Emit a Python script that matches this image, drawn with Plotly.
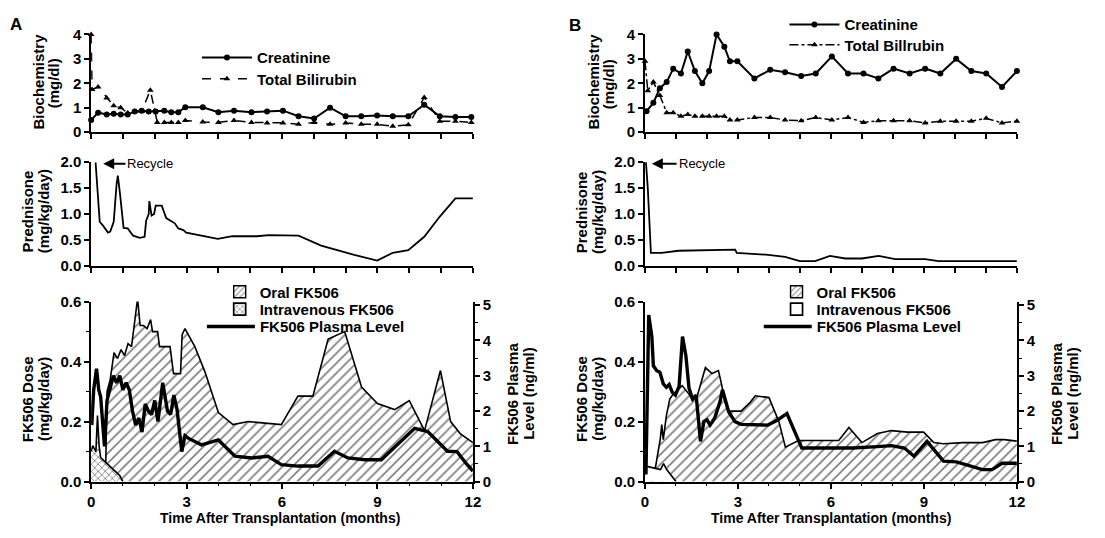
import plotly.graph_objects as go

# The page body has an 8 px margin, so the figure is drawn 8 px smaller and
# all positions below are given in screen pixels and converted.
SCREEN_W, SCREEN_H = 1105, 538
OFF = 8
W, H = SCREEN_W - OFF, SCREEN_H - OFF
FONT = "Liberation Sans, Arial, Helvetica, sans-serif"

# ---------------- tick definitions ----------------
month_ticks = list(range(13))
time_ticks = [0, 3, 6, 9, 12]
biochem_ticks = [0, 1, 2, 3, 4]
pred_ticks = [0.0, 0.5, 1.0, 1.5, 2.0]
pred_labels = ["0.0", "0.5", "1.0", "1.5", "2.0"]
dose_ticks = [0.0, 0.2, 0.4, 0.6]
dose_labels = ["0.0", "0.2", "0.4", "0.6"]
dose_minor = [0.1, 0.3, 0.5]
level_ticks = [0, 1, 2, 3, 4, 5]
level_minor = [0.5, 1.5, 2.5, 3.5, 4.5]

# ---------------- Panel A : biochemistry ----------------
crea_A_t = [0, 0.22, 0.49, 0.71, 0.93, 1.15, 1.37, 1.59, 1.81, 2.03, 2.30, 2.52, 2.74, 2.96, 3.51, 4.0,
            4.49, 5.04, 5.53, 6.03, 6.52, 7.01, 7.51, 8.0, 8.49, 8.99, 9.48, 9.97, 10.47, 10.96, 11.45, 11.95]
crea_A = [0.5, 0.8, 0.72, 0.75, 0.72, 0.72, 0.85, 0.88, 0.85, 0.85, 0.88, 0.82, 0.82, 1.02, 1.02, 0.82,
          0.88, 0.82, 0.85, 0.88, 0.65, 0.56, 1.0, 0.65, 0.65, 0.68, 0.65, 0.65, 1.12, 0.65, 0.62, 0.62]
bili_A_t = [0, 0.03, 0.22, 0.49, 0.71, 0.93, 1.15, 1.37, 1.59, 1.86, 2.0, 2.08, 2.30, 2.52, 2.74, 2.96, 3.51,
            4.0, 4.49, 5.04, 5.53, 6.03, 6.52, 7.01, 7.51, 8.0, 8.49, 8.99, 9.48, 9.97, 10.47, 10.96, 11.45, 11.95]
bili_A = [4.0, 1.75, 1.85, 1.4, 1.08, 1.0, 0.78, 0.85, 0.85, 1.72, 0.88, 0.4, 0.4, 0.4, 0.4, 0.48, 0.42,
          0.4, 0.48, 0.4, 0.38, 0.38, 0.32, 0.4, 0.32, 0.38, 0.32, 0.32, 0.24, 0.3, 1.42, 0.45, 0.45, 0.4]

# ---------------- Panel A : prednisone ----------------
pred_A_t = [0.14, 0.27, 0.38, 0.53, 0.60, 0.71, 0.80, 0.84, 0.91, 1.02, 1.15, 1.32, 1.53, 1.68, 1.73, 1.81,
            1.83, 1.90, 1.98, 2.03, 2.22, 2.36, 2.63, 2.74, 2.90, 2.99, 3.98, 4.44, 5.21, 5.59, 6.52, 7.23,
            8.27, 8.99, 9.48, 9.97, 10.47, 10.96, 11.45, 12.0]
pred_A = [2.0, 0.85, 0.77, 0.64, 0.66, 0.85, 1.57, 1.74, 1.38, 0.73, 0.72, 0.58, 0.54, 0.56, 0.87, 1.0,
          1.25, 0.97, 1.0, 1.16, 1.16, 0.92, 0.82, 0.72, 0.69, 0.64, 0.52, 0.57, 0.57, 0.59, 0.58, 0.39,
          0.21, 0.1, 0.25, 0.3, 0.56, 0.95, 1.3, 1.3]

# ---------------- Panel A : FK506 ----------------
oral_A_t = [0.45, 0.5, 0.6, 0.72, 0.83, 0.94, 1.05, 1.16, 1.27, 1.35, 1.46, 1.54, 1.65, 1.76, 1.87, 1.93,
            2.09, 2.15, 2.48, 2.59, 2.81, 2.86, 2.95, 3.26, 3.58, 4.0, 4.46, 4.94, 5.98, 6.5, 6.97, 7.45,
            7.97, 8.5, 9.0, 9.54, 10.0, 10.48, 10.98, 11.3, 11.6, 12.0]
oral_A = [0.0, 0.30, 0.34, 0.43, 0.41, 0.44, 0.42, 0.46, 0.45, 0.52, 0.61, 0.52, 0.52, 0.51, 0.54, 0.50,
          0.50, 0.45, 0.45, 0.36, 0.36, 0.49, 0.51, 0.45, 0.365, 0.23, 0.19, 0.20, 0.19, 0.285, 0.285, 0.475,
          0.50, 0.315, 0.26, 0.24, 0.27, 0.17, 0.37, 0.20, 0.16, 0.13]
iv_A_t = [0, 0.05, 0.15, 0.2, 0.25, 0.3, 0.5, 0.7, 0.9, 1.0]
iv_A = [0.1, 0.12, 0.1, 0.22, 0.12, 0.08, 0.06, 0.04, 0.02, 0.0]
level_A_t = [0.02, 0.08, 0.17, 0.24, 0.3, 0.36, 0.42, 0.5, 0.6, 0.7, 0.8, 0.9, 1.0, 1.1, 1.2, 1.3, 1.4, 1.5,
             1.6, 1.7, 1.8, 1.9, 2.0, 2.1, 2.25, 2.4, 2.5, 2.6, 2.7, 2.85, 2.95, 3.05, 3.47, 4.0, 4.52, 5.04,
             5.56, 5.98, 6.5, 7.13, 7.65, 8.07, 8.6, 9.12, 10.17, 10.58, 11.2, 11.5, 11.8, 12.0]
level_A = [1.6, 2.6, 3.2, 2.6, 2.4, 1.8, 1.0, 2.3, 2.7, 3.0, 2.8, 3.0, 2.6, 2.8, 2.6, 2.0, 1.6, 1.8,
           1.4, 2.2, 2.0, 1.9, 2.3, 1.7, 2.8, 2.0, 1.9, 2.45, 2.05, 0.85, 1.3, 1.23, 1.04, 1.18, 0.72, 0.67,
           0.72, 0.48, 0.44, 0.44, 0.86, 0.67, 0.62, 0.62, 1.51, 1.42, 0.86, 0.85, 0.5, 0.3]

# ---------------- Panel B : biochemistry ----------------
crea_B_t = [0.05, 0.27, 0.48, 0.70, 0.91, 1.16, 1.38, 1.61, 1.85, 2.07, 2.31, 2.56, 2.74, 2.98, 3.53, 4.04,
            4.52, 5.04, 5.51, 6.03, 6.55, 7.05, 7.53, 8.02, 8.54, 9.04, 9.53, 10.04, 10.53, 11.01, 11.52, 12.0]
crea_B = [0.86, 1.2, 1.8, 2.05, 2.6, 2.4, 3.3, 2.5, 2.0, 2.5, 4.0, 3.5, 2.9, 2.9, 2.2, 2.55,
          2.45, 2.3, 2.4, 3.1, 2.4, 2.4, 2.2, 2.6, 2.4, 2.6, 2.4, 3.0, 2.5, 2.4, 1.85, 2.5]
bili_B_t = [0, 0.09, 0.27, 0.48, 0.70, 0.91, 1.16, 1.38, 1.61, 1.85, 2.07, 2.31, 2.56, 2.74, 2.98, 3.53,
            4.04, 4.52, 5.04, 5.51, 6.03, 6.55, 7.05, 7.53, 8.02, 8.54, 9.04, 9.53, 10.04, 10.53, 11.01,
            11.52, 12.0]
bili_B = [2.9, 1.7, 2.05, 1.5, 0.8, 0.8, 0.65, 0.72, 0.65, 0.65, 0.65, 0.65, 0.65, 0.5, 0.5, 0.6,
          0.6, 0.5, 0.47, 0.6, 0.5, 0.6, 0.4, 0.47, 0.47, 0.47, 0.38, 0.45, 0.45, 0.45, 0.57, 0.38, 0.45]

# ---------------- Panel B : prednisone ----------------
pred_B_t = [0.03, 0.09, 0.19, 0.54, 1.08, 1.83, 2.48, 2.91, 2.96, 3.66, 3.98, 4.52, 5.0, 5.49, 5.97, 6.46,
            7.0, 7.54, 8.07, 9.04, 9.47, 10.76, 12.0]
pred_B = [2.0, 1.5, 0.25, 0.25, 0.29, 0.3, 0.3, 0.31, 0.25, 0.23, 0.21, 0.17, 0.09, 0.09, 0.19, 0.14,
          0.14, 0.19, 0.13, 0.13, 0.09, 0.09, 0.09]

# ---------------- Panel B : FK506 ----------------
oral_B_t = [0.2, 0.33, 0.49, 0.54, 0.59, 0.69, 0.8, 0.9, 1.0, 1.2, 1.43, 1.54, 1.7, 1.84, 1.95, 2.16, 2.37,
            2.48, 2.58, 2.7, 3.1, 3.4, 3.56, 4.0, 4.32, 4.53, 4.95, 6.25, 6.58, 7.0, 7.5, 7.95, 8.47, 8.99,
            9.32, 9.63, 10.26, 10.89, 11.31, 11.6, 12.0]
oral_B = [0.0, 0.043, 0.14, 0.19, 0.14, 0.22, 0.275, 0.29, 0.3, 0.32, 0.29, 0.27, 0.29, 0.34, 0.38, 0.36, 0.37,
          0.32, 0.265, 0.235, 0.235, 0.265, 0.286, 0.28, 0.2, 0.115, 0.137, 0.137, 0.18, 0.13, 0.16, 0.17,
          0.165, 0.165, 0.13, 0.126, 0.13, 0.13, 0.14, 0.14, 0.135]
iv_B_t = [0, 0.1, 0.3, 0.5, 0.6, 0.7, 0.85, 1.0]
iv_B = [0.05, 0.05, 0.045, 0.04, 0.06, 0.04, 0.02, 0.0]
level_B_t = [0.03, 0.08, 0.12, 0.22, 0.27, 0.38, 0.48, 0.59, 0.69, 0.78, 0.88, 0.98, 1.1, 1.21, 1.32, 1.42,
             1.53, 1.65, 1.79, 1.9, 2.0, 2.1, 2.25, 2.42, 2.5, 2.7, 2.9, 3.1, 3.4, 3.96, 4.27, 4.58, 5.06,
             5.6, 6.69, 7.5, 7.95, 8.37, 8.68, 9.1, 9.63, 10.05, 10.47, 10.89, 11.2, 11.52, 12.0]
level_B = [0.2, 3.5, 4.72, 4.11, 3.28, 3.14, 3.1, 2.77, 2.67, 2.75, 2.53, 2.45, 2.7, 4.11, 3.56, 2.65,
           2.35, 2.45, 1.14, 1.7, 1.75, 1.6, 1.8, 2.26, 2.6, 1.98, 1.7, 1.62, 1.62, 1.6, 1.74, 1.93, 0.95,
           0.95, 0.95, 0.99, 1.02, 0.95, 0.72, 1.14, 0.58, 0.56, 0.45, 0.34, 0.34, 0.52, 0.52]


def px(v):
    return (v - OFF) / W


def py(v):
    return 1 - (v - OFF) / H


bold = dict(family=FONT, size=15, color="black", weight="bold")
ORAL_PATTERN = dict(shape="/", size=7, solidity=0.24, fgcolor="black", bgcolor="white")

fig = go.Figure()


def panel_traces(crea_t, crea, bili_t, bili, bili_name, bili_dash, pred_t, pred,
                 oral_t, oral, iv_t, iv, iv_pattern, lvl_t, lvl, axes, legs):
    xa, ya, xb, yb, xc, yc, yd = axes
    lg_c, lg_b, lg_o, lg_i, lg_l = legs
    fig.add_trace(go.Scatter(x=crea_t, y=crea, mode="lines+markers", name="Creatinine",
                             line=dict(color="black", width=2),
                             marker=dict(symbol="circle", size=6, color="black"),
                             xaxis=xa, yaxis=ya, legend=lg_c, cliponaxis=False))
    fig.add_trace(go.Scatter(x=bili_t, y=bili, mode="lines+markers", name=bili_name,
                             line=dict(color="black", width=1.5, dash=bili_dash),
                             marker=dict(symbol="triangle-up", size=6, color="black"),
                             xaxis=xa, yaxis=ya, legend=lg_b, cliponaxis=False))
    fig.add_trace(go.Scatter(x=pred_t, y=pred, mode="lines", name="Prednisone",
                             line=dict(color="black", width=1.8),
                             xaxis=xb, yaxis=yb, showlegend=False, cliponaxis=False))
    fig.add_trace(go.Scatter(x=oral_t, y=oral, mode="lines", name="Oral FK506", fill="tozeroy",
                             line=dict(color="black", width=1.6), fillcolor="white",
                             fillpattern=ORAL_PATTERN, xaxis=xc, yaxis=yc, showlegend=False))
    fig.add_trace(go.Scatter(x=iv_t, y=iv, mode="lines", name="Intravenous FK506", fill="tozeroy",
                             line=dict(color="black", width=1.6), fillcolor="white",
                             fillpattern=iv_pattern, xaxis=xc, yaxis=yc, showlegend=False))
    fig.add_trace(go.Scatter(x=lvl_t, y=lvl, mode="lines", name="FK506 Plasma Level",
                             line=dict(color="black", width=3.4),
                             xaxis=xc, yaxis=yd, legend=lg_l))
    # legend keys for the two dose areas (square hatched keys, as in the original)
    fig.add_trace(go.Bar(x=[None], y=[None], name="Oral FK506", xaxis=xc, yaxis=yc, legend=lg_o,
                         marker=dict(color="white", line=dict(color="black", width=1.4),
                                     pattern=dict(shape="/", size=5, solidity=0.25,
                                                  fgcolor="black", bgcolor="white"))))
    fig.add_trace(go.Bar(x=[None], y=[None], name="Intravenous FK506", xaxis=xc, yaxis=yc,
                         legend=lg_i,
                         marker=dict(color="white", line=dict(color="black", width=1.7),
                                     pattern=iv_pattern)))


IV_A_PATTERN = dict(shape="x", size=5, solidity=0.3, fgcolor="black", bgcolor="white")
IV_B_PATTERN = dict(shape="", fgcolor="black", bgcolor="white")

panel_traces(crea_A_t, crea_A, bili_A_t, bili_A, "Total Bilirubin", "dash", pred_A_t, pred_A,
             oral_A_t, oral_A, iv_A_t, iv_A, IV_A_PATTERN, level_A_t, level_A,
             ("x", "y", "x2", "y2", "x3", "y3", "y4"),
             ("legend", "legend2", "legend3", "legend4", "legend5"))
panel_traces(crea_B_t, crea_B, bili_B_t, bili_B, "Total Billrubin", "dashdot", pred_B_t, pred_B,
             oral_B_t, oral_B, iv_B_t, iv_B, IV_B_PATTERN, level_B_t, level_B,
             ("x4", "y5", "x5", "y6", "x6", "y7", "y8"),
             ("legend6", "legend7", "legend8", "legend9", "legend10"))

axis_common = dict(showline=True, linecolor="black", linewidth=1.6, ticks="outside", ticklen=5,
                   tickwidth=1.5, tickcolor="black", showgrid=False, zeroline=False,
                   tickfont=bold, fixedrange=True)

A_X = [px(88), px(474)]
B_X = [px(648), px(1024)]
TOP_Y = [py(127), py(26)]
MID_Y = [py(265), py(158)]
BOT_Y = [py(488), py(302)]


def xaxis_small(dom, anchor):
    return dict(axis_common, domain=dom, anchor=anchor, range=[0, 12], tickmode="array",
                tickvals=month_ticks, showticklabels=False)


def xaxis_time(dom, anchor):
    return dict(axis_common, domain=dom, anchor=anchor, range=[0, 12], tickmode="array",
                tickvals=time_ticks, ticktext=[str(t) for t in time_ticks], ticklen=6,
                minor=dict(tickvals=month_ticks, ticklen=3, ticks="outside", tickcolor="black",
                           tickwidth=1.2))


def yaxis_bio(dom, anchor):
    return dict(axis_common, domain=dom, anchor=anchor, range=[0, 4], tickmode="array",
                tickvals=biochem_ticks)


def yaxis_pred(dom, anchor):
    return dict(axis_common, domain=dom, anchor=anchor, range=[0, 2], tickmode="array",
                tickvals=pred_ticks, ticktext=pred_labels)


def yaxis_dose(dom, anchor):
    return dict(axis_common, domain=dom, anchor=anchor, range=[0, 0.6], tickmode="array",
                tickvals=dose_ticks, ticktext=dose_labels,
                minor=dict(tickvals=dose_minor, ticklen=3, ticks="outside", tickcolor="black",
                           tickwidth=1.2))


def yaxis_level(over, anchor):
    return dict(axis_common, overlaying=over, anchor=anchor, side="right", range=[0, 5.1],
                tickmode="array", tickvals=level_ticks,
                minor=dict(tickvals=level_minor, ticklen=3, ticks="outside", tickcolor="black",
                           tickwidth=1.2))


def legend_at(text_x, row_y, iw):
    # text begins itemwidth + 10 px to the right of the legend's left edge;
    # the first row is centred about 15 px below the legend's top edge.
    return dict(font=bold, bgcolor="rgba(0,0,0,0)", borderwidth=0, xanchor="left",
                yanchor="top", itemwidth=iw, tracegroupgap=0, itemclick=False,
                itemdoubleclick=False, x=px(text_x - iw - 10), y=py(row_y - 15))


fig.update_layout(
    width=W, height=H, margin=dict(l=0, r=0, t=0, b=0),
    plot_bgcolor="white", paper_bgcolor="white", showlegend=True,
    xaxis=xaxis_small(A_X, "y"), yaxis=yaxis_bio(TOP_Y, "x"),
    xaxis2=xaxis_small(A_X, "y2"), yaxis2=yaxis_pred(MID_Y, "x2"),
    xaxis3=xaxis_time(A_X, "y3"), yaxis3=yaxis_dose(BOT_Y, "x3"), yaxis4=yaxis_level("y3", "x3"),
    xaxis4=xaxis_small(B_X, "y5"), yaxis5=yaxis_bio(TOP_Y, "x4"),
    xaxis5=xaxis_small(B_X, "y6"), yaxis6=yaxis_pred(MID_Y, "x5"),
    xaxis6=xaxis_time(B_X, "y7"), yaxis7=yaxis_dose(BOT_Y, "x6"), yaxis8=yaxis_level("y7", "x6"),
    legend=legend_at(255, 48, 50), legend2=legend_at(255, 70, 50),
    legend3=legend_at(258, 290, 30), legend4=legend_at(258, 308, 30),
    legend5=legend_at(258, 326, 48),
    legend6=legend_at(849, 14, 50), legend7=legend_at(849, 35, 50),
    legend8=legend_at(821, 290, 30), legend9=legend_at(821, 308, 30),
    legend10=legend_at(821, 326, 48),
    barmode="overlay",
)

ann = []


def text_ann(x, y, text, angle=0, size=15, weight="bold", xanchor="center"):
    ann.append(dict(x=px(x), y=py(y), xref="paper", yref="paper", text=text, showarrow=False,
                    textangle=angle, xanchor=xanchor, yanchor="middle",
                    font=dict(family=FONT, size=size, color="black", weight=weight)))


# panel letters
text_ann(12, 16, "A", size=17)
text_ann(577, 17, "B", size=17)
# titles panel A
text_ann(35, 75, "Biochemistry", -90)
text_ann(50, 77, "(mg/dl)", -90)
text_ann(24, 209, "Prednisone", -90)
text_ann(40, 209, "(mg/kg/day)", -90)
text_ann(24, 403, "FK506 Dose", -90)
text_ann(40, 403, "(mg/kg/day)", -90)
text_ann(514, 397, "FK506 Plasma", -90)
text_ann(530, 397, "Level (ng/ml)", -90)
# titles panel B
text_ann(596, 75, "Biochemistry", -90)
text_ann(611, 77, "(mg/dl)", -90)
text_ann(584, 210, "Prednisone", -90)
text_ann(600, 210, "(mg/kg/day)", -90)
text_ann(584, 403, "FK506 Dose", -90)
text_ann(600, 403, "(mg/kg/day)", -90)
text_ann(1064, 397, "FK506 Plasma", -90)
text_ann(1080, 397, "Level (ng/ml)", -90)
# x titles
text_ann(279, 526, "Time After Transplantation (months)", size=14)
text_ann(836, 526, "Time After Transplantation (months)", size=14)

# Recycle arrows
for xr, yr, head, tail in (("x2", "y2", 0.38, 1.08), ("x5", "y6", 0.22, 1.02)):
    ann.append(dict(x=head, y=1.97, xref=xr, yref=yr, ax=tail, ay=1.97, axref=xr, ayref=yr,
                    text="Recycle", showarrow=True, arrowhead=2, arrowsize=1.1, arrowwidth=2,
                    arrowcolor="black", xanchor="left", yanchor="middle", standoff=0,
                    font=dict(family=FONT, size=13, color="black")))

fig.update_layout(annotations=ann)
fig.write_html("out.html")
